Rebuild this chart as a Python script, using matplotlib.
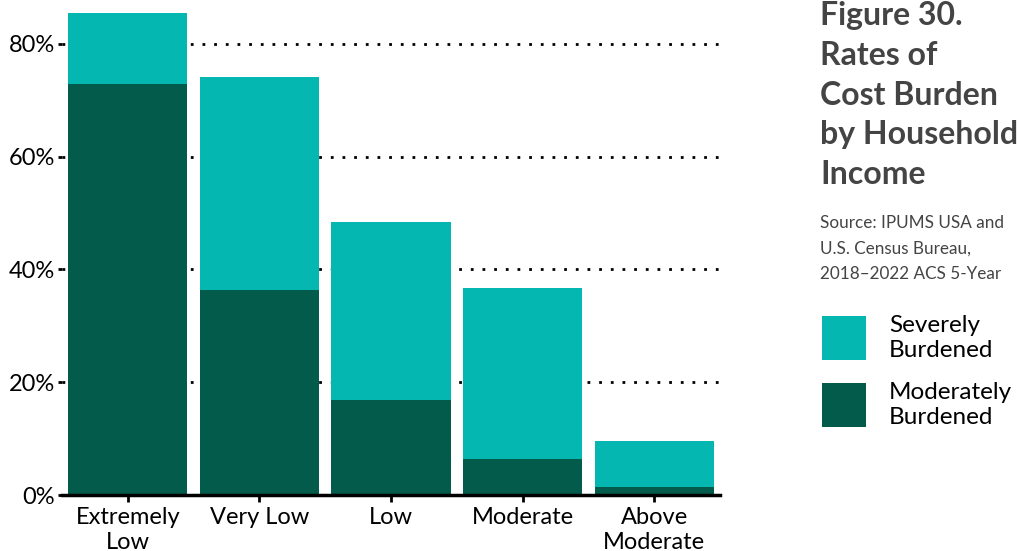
import matplotlib
matplotlib.use("Agg")
import matplotlib.pyplot as plt
from matplotlib.patches import Rectangle
from matplotlib.ticker import FuncFormatter

plt.rcParams['font.family'] = ['Lato', 'DejaVu Sans']

# Share of households by income group (percent)
categories = ["Extremely\nLow", "Very Low", "Low", "Moderate", "Above\nModerate"]
moderately_burdened = [72.9, 36.4, 16.9, 6.4, 1.4]
severely_burdened = [12.6, 37.7, 31.5, 30.3, 8.2]
y_ticks = [0, 20, 40, 60, 80]
series_labels = ["Severely\nBurdened", "Moderately\nBurdened"]

teal = "#04b7b1"
dark_green = "#025b4b"

W, H = 1019, 551
fig = plt.figure(figsize=(W / 100, H / 100), dpi=100)
ax = fig.add_axes([62 / W, 1 - 495 / H, (720 - 62) / W, 485 / H])

x = list(range(len(categories)))
ax.bar(x, moderately_burdened, width=0.905, color=dark_green, zorder=3)
ax.bar(x, severely_burdened, width=0.905, bottom=moderately_burdened,
       color=teal, zorder=3)

ax.set_xlim(-0.5, 4.5)
ax.set_ylim(0, 86)
ax.set_yticks(y_ticks)
ax.yaxis.set_major_formatter(FuncFormatter(lambda v, p: f"{v:.0f}%"))
ax.set_xticks(x)
ax.set_xticklabels(categories, linespacing=1.2)

for v in y_ticks[1:]:
    ax.axhline(v, color="black", linestyle=(0, (1, 3.2)), linewidth=2.0, zorder=1)

for side in ("top", "right", "left"):
    ax.spines[side].set_visible(False)
ax.spines["bottom"].set_linewidth(2.5)
ax.spines["bottom"].set_zorder(4)

ax.tick_params(axis="y", length=3, width=2, pad=2, labelsize=17, colors="black")
ax.tick_params(axis="x", length=5, width=2, pad=4, labelsize=17, colors="black")

# Title and source block
fig.text(820 / W, 1 - 1 / H,
         "Figure 30.\nRates of\nCost Burden\nby Household\nIncome",
         ha="left", va="top", fontsize=23, fontweight="bold", color="#444444",
         linespacing=1.45)
fig.text(820 / W, 1 - 215 / H,
         "Source: IPUMS USA and\nU.S. Census Bureau,\n2018\u20132022 ACS 5-Year",
         ha="left", va="top", fontsize=12.3, color="#444444", linespacing=1.75)

# Legend swatches and labels
colors = [teal, dark_green]
swatch_tops = [316, 383]
for color, top, label in zip(colors, swatch_tops, series_labels):
    fig.patches.append(Rectangle((822 / W, 1 - (top + 44) / H), 44 / W, 44 / H,
                                 transform=fig.transFigure, facecolor=color,
                                 edgecolor="none"))
    fig.text(889 / W, 1 - (top + 22) / H, label, ha="left", va="center",
             fontsize=17.5, color="black", linespacing=1.2)

fig.savefig("out.png", dpi=100)
